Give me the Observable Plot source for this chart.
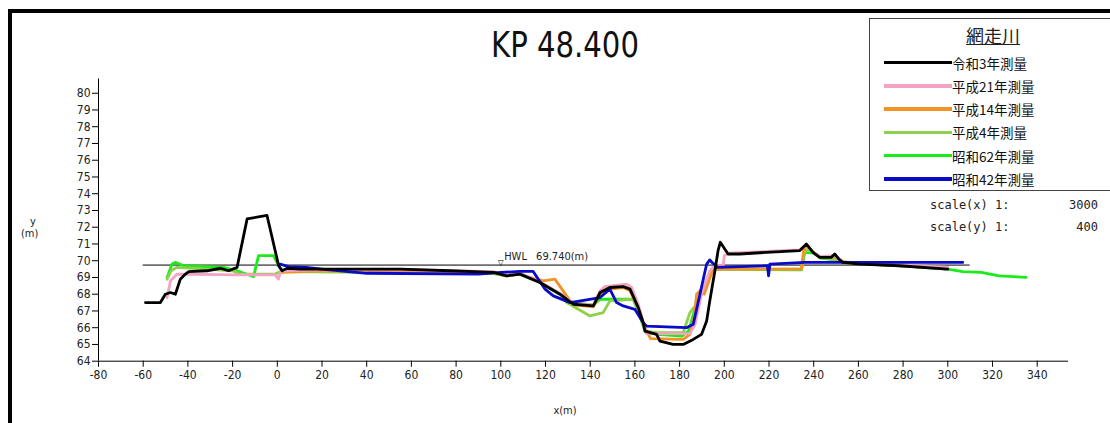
<!DOCTYPE html>
<html><head><meta charset="utf-8">
<script src="https://cdn.jsdelivr.net/npm/d3@7"></script>
<script src="https://cdn.jsdelivr.net/npm/@observablehq/plot@0.6"></script>
<style>
body{margin:0;background:#fff;}
#wrap{position:relative;width:1110px;height:423px;overflow:hidden;background:#fff;font-family:"DejaVu Sans Condensed","DejaVu Sans",sans-serif;font-stretch:condensed;}
.abs{position:absolute;white-space:pre;}
</style></head>
<body>
<div id="wrap">
  <div class="abs" style="left:8px;top:9px;width:1300px;height:600px;border-left:4px solid #000;border-top:4px solid #000;"></div>
  <div id="chart" class="abs" style="left:0;top:0;"></div>
  <div id="title" class="abs" style="left:565px;top:24px;transform:translateX(-50%) scaleX(0.9);font-size:36px;color:#111;"></div>
  <div id="legend" class="abs" style="left:869px;top:18px;width:300px;height:171px;border:1.5px solid #444;background:#fff;"></div>
  <div id="scales"></div>
  <div class="abs" style="left:21px;top:216px;font-size:11px;text-align:center;line-height:12px;color:#222;">  y<br>(m)</div>
  <div id="xlab" class="abs" style="left:565px;top:404px;transform:translateX(-50%);font-size:11px;color:#222;">x(m)</div>
</div>
<script>
const chartTitle = "KP 48.400";
const riverName = "網走川";
const seriesNames = ["令和3年測量","平成21年測量","平成14年測量","平成4年測量","昭和62年測量","昭和42年測量"];
const seriesColors = ["#000000","#F4A3C3","#F39224","#8ED04B","#1BEA1B","#0A0AC8"];
const hwlValue = 69.74;
const hwlLabel = "69.740(m)";
const hwlExtent = [-60, 310];
const xTicks = [-80,-60,-40,-20,0,20,40,60,80,100,120,140,160,180,200,220,240,260,280,300,320,340];
const yTicks = [64,65,66,67,68,69,70,71,72,73,74,75,76,77,78,79,80];
const scaleLabels = ["scale(x) 1:", "scale(y) 1:"];
const scaleValues = ["3000", "400"];

const reiwa3 = [[-59,67.5],[-52.3,67.5],[-50.1,68.0],[-47.8,68.1],[-45.6,68.0],[-43.4,68.9],[-41.1,69.2],[-39.6,69.35],[-31.4,69.4],[-25.5,69.55],[-21.8,69.4],[-18,69.6],[-13.5,72.5],[-4.6,72.7],[0.6,69.7],[2.1,69.4],[4.5,69.55],[10.3,69.5],[55,69.5],[77.3,69.4],[96.7,69.3],[102.7,69.1],[108.6,69.2],[117.5,68.7],[126.5,68.0],[132.4,67.4],[141.4,67.3],[144.4,68.1],[148.8,68.4],[154.8,68.45],[157.8,68.3],[161.5,67.2],[163.5,66.4],[164.5,65.8],[169.7,65.6],[171.2,65.2],[177.1,65.0],[181.6,65.0],[186.1,65.3],[189.8,65.6],[192.1,66.4],[193.5,67.6],[195.8,69.4],[197.2,70.6],[198.2,71.1],[201.7,70.4],[206.9,70.4],[218.8,70.5],[233.7,70.6],[236.7,71.0],[239.7,70.5],[242.7,70.2],[247.9,70.2],[249.4,70.4],[251.6,70.05],[253.1,69.9],[260.6,69.8],[278.4,69.7],[300,69.5]];
const heisei21 = [[-49.3,67.8],[-47.8,68.8],[-44.8,69.2],[-18,69.15],[-1,69.15],[0.5,68.9],[1.5,69.4],[20,69.45],[60,69.45],[96.7,69.35],[102.7,69.15],[108.6,69.25],[117.5,68.75],[126.5,68.05],[132.4,67.45],[141.4,67.35],[144.4,68.2],[146.6,68.45],[156.3,68.6],[158.5,68.4],[161.5,67.4],[164,66.2],[165.2,65.65],[184.6,65.65],[186.9,66.2],[189.8,68.0],[193.5,69.4],[195.8,69.7],[199.5,69.7],[200,70.3],[202,70.45],[218.8,70.55],[233.7,70.65],[236.7,70.95],[239.7,70.5],[242.7,70.25],[249.4,70.3],[253.1,69.95],[260.6,69.85],[280,69.75],[300,69.6]];
const heisei14 = [[2,69.3],[20,69.4],[60,69.4],[96.7,69.3],[102.7,69.1],[108.6,69.2],[113,69.0],[119,68.8],[124.2,68.9],[131,67.6],[134,67.35],[141.4,67.25],[144.4,68.0],[148.8,68.3],[154.8,68.4],[157.8,68.2],[161.5,67.2],[164.5,66.0],[167,65.35],[181.6,65.3],[184.6,65.6],[186.5,66.6],[187.6,68.0],[189.8,68.3],[191,68.0],[195,69.5],[234.5,69.5],[235.5,70.6],[236.7,70.9],[239.7,70.5],[242.7,70.2],[249.4,70.25],[253.1,69.9],[270,69.75],[300,69.55]];
const heisei4 = [[-49.3,68.9],[-47.5,69.4],[-45,69.6],[-20,69.4],[-17,69.2],[-1,69.2],[1.5,69.35],[40,69.3],[90,69.25],[96.7,69.25],[102.7,69.1],[108.6,69.2],[117.5,68.7],[126.5,68.0],[129.5,67.5],[139.9,66.7],[145.8,66.9],[148.8,67.6],[159.2,67.7],[161.5,67.0],[164.5,65.8],[170,65.7],[181.6,65.7],[183.1,66.3],[184.6,66.9],[187.6,67.4],[194.3,69.5],[234.5,69.5],[235.8,70.5],[237.5,70.7],[240,70.5],[243,70.2],[252,70.0],[256,69.85],[280,69.7],[300,69.5]];
const showa62 = [[-49.3,69.0],[-47.1,69.8],[-45.6,69.9],[-41.9,69.7],[-24,69.6],[-18,69.4],[-10.6,69.05],[-8.4,70.3],[-1.7,70.3],[0.6,69.7],[2,69.45],[30,69.35],[60,69.3],[90,69.25],[96.7,69.25],[102.7,69.1],[108.6,69.2],[117.5,68.7],[126.5,68.0],[132.4,67.5],[141.4,67.35],[144.4,67.7],[159.2,67.7],[162,66.8],[164.5,65.8],[170,65.6],[181,65.5],[184,65.8],[187,67.2],[195,69.5],[234.5,69.45],[236,70.5],[240,70.45],[243,70.15],[252,70.0],[256,69.85],[280,69.7],[300,69.5],[306.7,69.35],[315,69.3],[323,69.1],[335,69.0]];
const showa42 = [[1.3,69.8],[5,69.65],[13,69.6],[20,69.5],[40,69.25],[90,69.2],[100,69.3],[108.6,69.36],[114.5,69.36],[119.8,68.3],[123.5,67.9],[131,67.5],[144.4,67.8],[148.8,68.3],[151.8,67.5],[154.8,67.3],[160,67.1],[163.7,66.3],[165.2,66.1],[183.1,66.0],[186.1,66.2],[192.1,69.8],[193.5,70.05],[194.5,69.9],[197,69.6],[219.3,69.7],[219.8,69.1],[220.4,69.8],[236,69.9],[306.7,69.9]];

const seriesData = [reiwa3, heisei21, heisei14, heisei4, showa62, showa42];
const drawOrder = [4, 3, 2, 1, 5, 0];

const table = [];
seriesData.forEach((arr, i) => arr.forEach(([x, y]) => table.push({series: seriesNames[i], x, y})));

const fontAxis = '"DejaVu Sans Condensed","DejaVu Sans",sans-serif';
const marks = [
  Plot.ruleX([-80], {y1: 64, y2: 80.85, stroke: "#000", strokeWidth: 1}),
  Plot.ruleY([64], {x1: -80, x2: 354, stroke: "#000", strokeWidth: 1}),
  Plot.axisX(xTicks, {anchor: "bottom", tickSize: 6, tickPadding: 3, tickFormat: d => String(d), label: null, fill: "#222"}),
  Plot.axisY(yTicks, {anchor: "left", tickSize: 6, tickPadding: 2, tickFormat: d => String(d), label: null, fill: "#222"}),
  Plot.ruleY([hwlValue], {x1: hwlExtent[0], x2: hwlExtent[1], stroke: "#000", strokeWidth: 1}),
];
drawOrder.forEach(i => {
  marks.push(Plot.line(table.filter(d => d.series === seriesNames[i]), {
    x: "x", y: "y", stroke: seriesColors[i], strokeWidth: 2.8,
    strokeLinejoin: "round", strokeLinecap: "round", curve: "linear"
  }));
});
marks.push(Plot.text([{x: 100, y: hwlValue}], {x: "x", y: "y", text: () => "▽", fontSize: 8, dy: -3, fill: "#000"}));
marks.push(Plot.text([{x: 101.5, y: hwlValue}], {x: "x", y: "y", text: () => "HWL", fontSize: 11, dy: -9, textAnchor: "start", fill: "#222"}));
marks.push(Plot.text([{x: 115.8, y: hwlValue}], {x: "x", y: "y", text: () => hwlLabel, fontSize: 11, dy: -9, textAnchor: "start", fill: "#222"}));

const chart = Plot.plot({
  width: 1110, height: 423,
  marginLeft: 98, marginRight: 42, marginTop: 78.5, marginBottom: 62.3,
  x: {domain: [-80, 354]},
  y: {domain: [64, 80.85]},
  style: {fontFamily: fontAxis, fontSize: "12px", background: "transparent", fontStretch: "condensed"},
  marks
});
document.getElementById("chart").appendChild(chart);

document.getElementById("title").textContent = chartTitle;

// legend
const lg = document.getElementById("legend");
const t = document.createElement("div");
t.className = "abs";
t.style.cssText = "left:123px;top:3px;transform:translateX(-50%);font-family:'Noto Sans CJK JP';font-size:18px;text-decoration:underline;color:#222;";
t.textContent = riverName;
lg.appendChild(t);
seriesNames.forEach((name, i) => {
  const cy = 43.5 + i * 23.3;
  const ln = document.createElement("div");
  ln.className = "abs";
  ln.style.cssText = `left:14px;top:${cy - 1.8}px;width:68px;height:3.6px;background:${seriesColors[i]};`;
  lg.appendChild(ln);
  const tx = document.createElement("div");
  tx.className = "abs";
  tx.style.cssText = `left:82px;top:${cy - 10}px;font-family:'Noto Sans CJK JP';font-size:13.5px;line-height:20px;color:#111;`;
  tx.textContent = name;
  lg.appendChild(tx);
});

// scale texts
const sc = document.getElementById("scales");
scaleLabels.forEach((s, i) => {
  const cy = 205 + i * 22;
  const a = document.createElement("div");
  a.className = "abs";
  a.style.cssText = `left:930px;top:${cy - 8}px;font-family:'DejaVu Sans Mono';font-size:12px;line-height:16px;color:#222;`;
  a.textContent = s;
  sc.appendChild(a);
  const b = document.createElement("div");
  b.className = "abs";
  b.style.cssText = `right:${1110 - 1098}px;top:${cy - 8}px;font-family:'DejaVu Sans Mono';font-size:12px;line-height:16px;color:#222;`;
  b.textContent = scaleValues[i];
  sc.appendChild(b);
});
</script>
</body></html>
